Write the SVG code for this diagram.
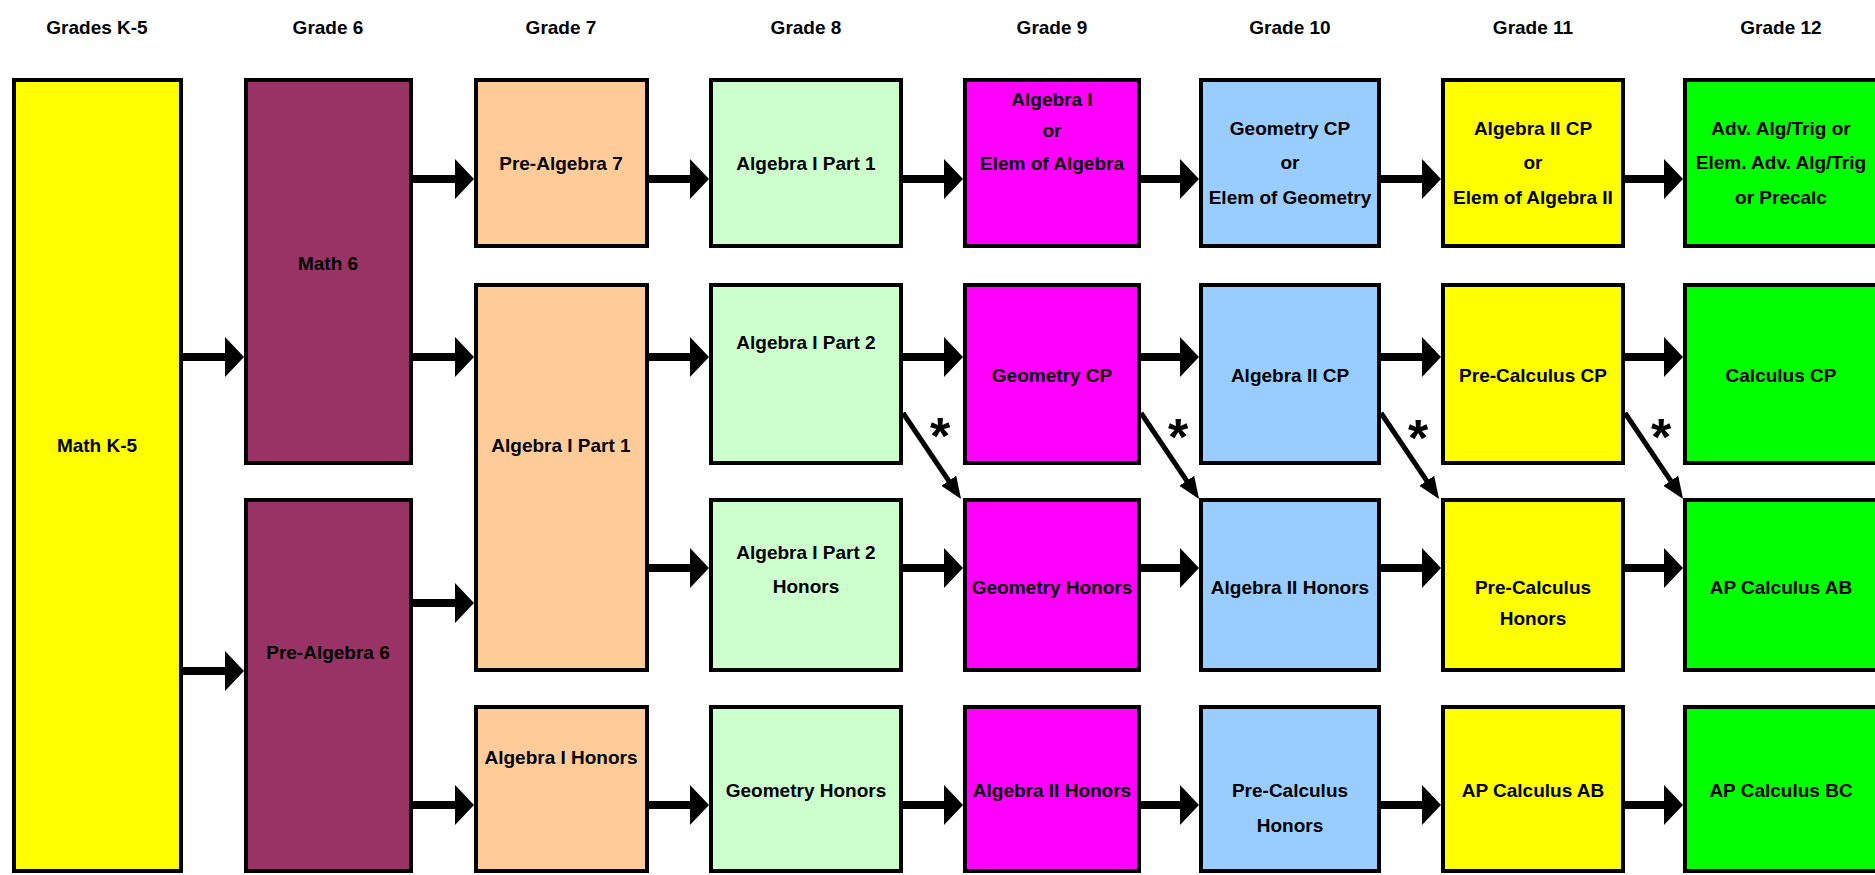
<svg xmlns="http://www.w3.org/2000/svg" width="1875" height="875" viewBox="0 0 1875 875">
<style>
.b{stroke:#000;stroke-width:4}
.y{fill:#FFFF00}.m{fill:#993366}.p{fill:#FFCC99}.lg{fill:#CCFFCC}.mg{fill:#FF00FF}.lb{fill:#99CCFF}.g{fill:#00FF00}
text{font-family:"Liberation Sans",Arial,sans-serif;font-weight:bold;font-size:19px;text-anchor:middle;fill:#000}
.ar{stroke:#000;stroke-width:8;fill:none;marker-end:url(#ah)}
.dg{stroke:#000;stroke-width:5;fill:none;marker-end:url(#ad)}
.ast{font-size:52px}
</style>
<defs>
<marker id="ah" markerUnits="userSpaceOnUse" markerWidth="19" markerHeight="40" viewBox="0 -20 19 40" refX="1" refY="0" orient="auto"><path d="M0,-20 L19,0 L0,20 Z" fill="#000"/></marker>
<marker id="ad" markerUnits="userSpaceOnUse" markerWidth="22" markerHeight="18" viewBox="0 -9 22 18" refX="1" refY="0" orient="auto"><path d="M0,-9 L22,0 L0,9 Z" fill="#000"/></marker>
</defs>
<rect width="1875" height="875" fill="#fff"/>
<g id="headers">
<text x="97" y="34">Grades K-5</text>
<text x="328" y="34">Grade 6</text>
<text x="561" y="34">Grade 7</text>
<text x="806" y="34">Grade 8</text>
<text x="1052" y="34">Grade 9</text>
<text x="1290" y="34">Grade 10</text>
<text x="1533" y="34">Grade 11</text>
<text x="1781" y="34">Grade 12</text>
</g>
<g id="connectors">
<line class="ar" x1="413" y1="179" x2="456" y2="179"/>
<line class="ar" x1="649" y1="179" x2="691" y2="179"/>
<line class="ar" x1="903" y1="179" x2="945" y2="179"/>
<line class="ar" x1="1141" y1="179" x2="1181" y2="179"/>
<line class="ar" x1="1381" y1="179" x2="1423" y2="179"/>
<line class="ar" x1="1625" y1="179" x2="1665" y2="179"/>
<line class="ar" x1="183" y1="357" x2="226" y2="357"/>
<line class="ar" x1="413" y1="357" x2="456" y2="357"/>
<line class="ar" x1="649" y1="357" x2="691" y2="357"/>
<line class="ar" x1="903" y1="357" x2="945" y2="357"/>
<line class="ar" x1="1141" y1="357" x2="1181" y2="357"/>
<line class="ar" x1="1381" y1="357" x2="1423" y2="357"/>
<line class="ar" x1="1625" y1="357" x2="1665" y2="357"/>
<line class="ar" x1="649" y1="568" x2="691" y2="568"/>
<line class="ar" x1="903" y1="568" x2="945" y2="568"/>
<line class="ar" x1="1141" y1="568" x2="1181" y2="568"/>
<line class="ar" x1="1381" y1="568" x2="1423" y2="568"/>
<line class="ar" x1="1625" y1="568" x2="1665" y2="568"/>
<line class="ar" x1="413" y1="603" x2="456" y2="603"/>
<line class="ar" x1="183" y1="671" x2="226" y2="671"/>
<line class="ar" x1="413" y1="805" x2="456" y2="805"/>
<line class="ar" x1="649" y1="805" x2="691" y2="805"/>
<line class="ar" x1="903" y1="805" x2="945" y2="805"/>
<line class="ar" x1="1141" y1="805" x2="1181" y2="805"/>
<line class="ar" x1="1381" y1="805" x2="1423" y2="805"/>
<line class="ar" x1="1625" y1="805" x2="1665" y2="805"/>
<line class="dg" x1="903" y1="413" x2="949.3" y2="481.6"/>
<line class="dg" x1="1141" y1="413" x2="1187.3" y2="481.6"/>
<line class="dg" x1="1381" y1="413" x2="1427.3" y2="481.6"/>
<line class="dg" x1="1625" y1="413" x2="1671.3" y2="481.6"/>
<text class="ast" x="940" y="454">*</text>
<text class="ast" x="1178" y="455">*</text>
<text class="ast" x="1418" y="456">*</text>
<text class="ast" x="1661" y="455">*</text>
</g>
<g id="math-k5"><rect class="b y" x="14" y="80" width="167" height="791"/><text x="97" y="452">Math K-5</text></g>
<g id="math-6"><rect class="b m" x="246" y="80" width="165" height="383"/><text x="328" y="270">Math 6</text></g>
<g id="pre-algebra-6"><rect class="b m" x="246" y="500" width="165" height="371"/><text x="328" y="659">Pre-Algebra 6</text></g>
<g id="pre-algebra-7"><rect class="b p" x="476" y="80" width="171" height="166"/><text x="561" y="170">Pre-Algebra 7</text></g>
<g id="g7-algebra-1-part-1"><rect class="b p" x="476" y="285" width="171" height="385"/><text x="561" y="452">Algebra I Part 1</text></g>
<g id="g7-algebra-1-honors"><rect class="b p" x="476" y="707" width="171" height="164"/><text x="561" y="764">Algebra I Honors</text></g>
<g id="g8-algebra-1-part-1"><rect class="b lg" x="711" y="80" width="190" height="166"/><text x="806" y="170">Algebra I Part 1</text></g>
<g id="g8-algebra-1-part-2"><rect class="b lg" x="711" y="285" width="190" height="178"/><text x="806" y="349">Algebra I Part 2</text></g>
<g id="g8-algebra-1-part-2-honors"><rect class="b lg" x="711" y="500" width="190" height="170"/><text x="806" y="559">Algebra I Part 2</text><text x="806" y="593">Honors</text></g>
<g id="g8-geometry-honors"><rect class="b lg" x="711" y="707" width="190" height="164"/><text x="806" y="797">Geometry Honors</text></g>
<g id="g9-algebra-1"><rect class="b mg" x="965" y="80" width="174" height="166"/><text x="1052" y="106">Algebra I</text><text x="1052" y="137">or</text><text x="1052" y="170">Elem of Algebra</text></g>
<g id="g9-geometry-cp"><rect class="b mg" x="965" y="285" width="174" height="178"/><text x="1052" y="382">Geometry CP</text></g>
<g id="g9-geometry-honors"><rect class="b mg" x="965" y="500" width="174" height="170"/><text x="1052" y="594">Geometry Honors</text></g>
<g id="g9-algebra-2-honors"><rect class="b mg" x="965" y="707" width="174" height="164"/><text x="1052" y="797">Algebra II Honors</text></g>
<g id="g10-geometry-cp"><rect class="b lb" x="1201" y="80" width="178" height="166"/><text x="1290" y="135">Geometry CP</text><text x="1290" y="169">or</text><text x="1290" y="204">Elem of Geometry</text></g>
<g id="g10-algebra-2-cp"><rect class="b lb" x="1201" y="285" width="178" height="178"/><text x="1290" y="382">Algebra II CP</text></g>
<g id="g10-algebra-2-honors"><rect class="b lb" x="1201" y="500" width="178" height="170"/><text x="1290" y="594">Algebra II Honors</text></g>
<g id="g10-pre-calculus-honors"><rect class="b lb" x="1201" y="707" width="178" height="164"/><text x="1290" y="797">Pre-Calculus</text><text x="1290" y="832">Honors</text></g>
<g id="g11-algebra-2-cp"><rect class="b y" x="1443" y="80" width="180" height="166"/><text x="1533" y="135">Algebra II CP</text><text x="1533" y="169">or</text><text x="1533" y="204">Elem of Algebra II</text></g>
<g id="g11-pre-calculus-cp"><rect class="b y" x="1443" y="285" width="180" height="178"/><text x="1533" y="382">Pre-Calculus CP</text></g>
<g id="g11-pre-calculus-honors"><rect class="b y" x="1443" y="500" width="180" height="170"/><text x="1533" y="594">Pre-Calculus</text><text x="1533" y="625">Honors</text></g>
<g id="g11-ap-calculus-ab"><rect class="b y" x="1443" y="707" width="180" height="164"/><text x="1533" y="797">AP Calculus AB</text></g>
<g id="g12-adv-alg-trig"><rect class="b g" x="1685" y="80" width="193" height="166"/><text x="1781" y="135">Adv. Alg/Trig or</text><text x="1781" y="169">Elem. Adv. Alg/Trig</text><text x="1781" y="204">or Precalc</text></g>
<g id="g12-calculus-cp"><rect class="b g" x="1685" y="285" width="193" height="178"/><text x="1781" y="382">Calculus CP</text></g>
<g id="g12-ap-calculus-ab"><rect class="b g" x="1685" y="500" width="193" height="170"/><text x="1781" y="594">AP Calculus AB</text></g>
<g id="g12-ap-calculus-bc"><rect class="b g" x="1685" y="707" width="193" height="164"/><text x="1781" y="797">AP Calculus BC</text></g>
</svg>
